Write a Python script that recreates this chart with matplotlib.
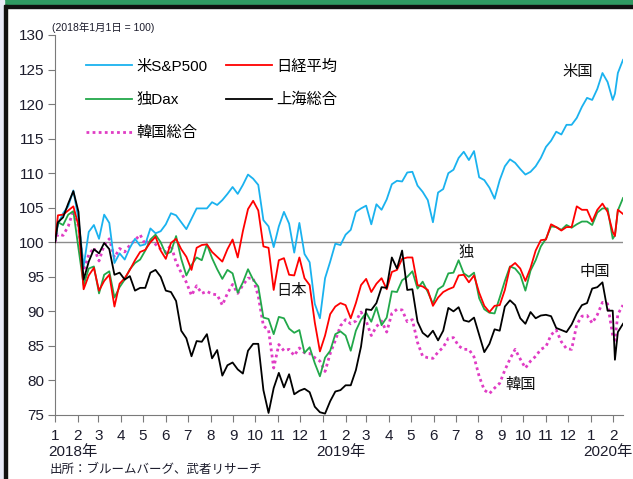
import numpy as np
import pandas as pd
import matplotlib
matplotlib.use("Agg")
import matplotlib.pyplot as plt
import matplotlib.dates as mdates
from matplotlib.patches import Rectangle

plt.rcParams['font.family'] = ['Liberation Sans', 'Noto Sans CJK JP']

# Dates: start point, weekly Fridays, plus the 3 Feb 2020 Shanghai reopening
dates = ([pd.Timestamp('2018-01-01')]
         + list(pd.date_range('2018-01-05', '2020-01-31', freq='W-FRI'))
         + [pd.Timestamp('2020-02-03'), pd.Timestamp('2020-02-07'), pd.Timestamp('2020-02-14')])

# index values, 2018/1/1 = 100
sp500 = [100,
    102.6, 104.2, 105.2, 107.5, 103.3, 96.5, 101.5, 102.5, 100.5, 104.0,
    102.8, 97.0, 98.4, 97.5, 99.2, 100.5, 99.5, 99.7, 102.0, 101.3,
    101.6, 102.6, 104.2, 103.9, 102.9, 101.9, 103.4, 104.9, 104.9, 104.9,
    105.8, 105.4, 106.1, 107.0, 108.0, 107.0, 108.3, 109.8, 109.2, 108.3,
    103.2, 102.3, 99.3, 102.3, 104.4, 102.7, 98.5, 102.8, 98.3, 97.1,
    91.1, 89.0, 94.8, 97.2, 99.8, 99.6, 101.1, 101.8, 104.4, 104.9,
    105.3, 102.6, 105.5, 104.7, 106.2, 108.4, 108.9, 108.8, 110.1, 110.2,
    108.2, 107.3, 106.1, 102.9, 107.2, 107.7, 110.0, 110.5, 112.2, 113.1,
    111.9, 113.2, 109.4, 109.0, 107.9, 106.3, 109.0, 111.0, 112.0, 111.5,
    110.6, 109.8, 110.2, 111.0, 112.2, 113.8, 114.7, 116.0, 115.6, 117.0,
    117.0, 118.0, 119.6, 120.9, 120.6, 122.2, 124.5, 123.2, 120.6,
    121.5, 124.5, 126.4]

nikkei = [100,
    103.9, 104.0, 104.6, 105.2, 102.4, 93.2, 95.2, 96.3, 93.0, 94.4,
    95.3, 90.7, 94.0, 94.8, 96.0, 97.4, 98.6, 98.9, 100.0, 100.8,
    98.8, 97.6, 99.9, 100.5, 99.0, 97.9, 96.0, 99.2, 99.6, 99.7,
    98.6, 97.9, 97.2, 99.0, 100.4, 97.8, 101.6, 104.8, 106.0, 104.6,
    99.4, 99.2, 93.1, 97.4, 97.7, 95.3, 95.2, 97.8, 94.8, 93.8,
    88.4, 84.2, 86.5, 89.6, 90.7, 91.2, 90.9, 89.0, 91.2, 93.8,
    94.7, 92.8, 94.0, 94.8, 93.2, 95.7, 96.0, 97.6, 97.8, 97.8,
    93.8, 93.6, 93.1, 90.8, 92.0, 92.8, 93.2, 93.5, 95.2, 95.3,
    94.2, 95.2, 92.7, 90.8, 89.9, 90.8, 90.9, 93.1, 96.4, 97.0,
    96.2, 94.4, 96.3, 98.8, 100.3, 100.4, 102.6, 102.2, 101.7, 102.2,
    102.2, 105.2, 104.7, 104.7, 103.0, 104.7, 105.6, 104.4, 101.5,
    100.9, 104.7, 104.1]

dax = [100,
    102.9, 102.5, 104.0, 104.5, 99.1, 93.8, 96.2, 96.5, 92.6, 95.3,
    95.8, 92.0, 93.5, 94.6, 96.1, 97.0, 97.5, 98.8, 100.4, 101.1,
    100.0, 98.3, 98.6, 100.9, 97.6, 95.2, 96.7, 97.8, 97.4, 99.7,
    97.7, 96.1, 94.7, 96.0, 95.5, 92.7, 94.2, 96.1, 94.6, 93.6,
    89.1, 88.9, 86.7, 89.2, 89.0, 87.5, 86.9, 87.3, 84.0, 84.8,
    82.5, 80.6, 83.3, 84.3, 86.7, 87.1, 86.5, 84.3, 87.2, 88.8,
    89.8, 88.5, 90.6, 88.0, 89.1, 92.9, 92.8, 94.5, 95.0, 95.8,
    93.3, 94.3, 92.8, 91.1, 93.2, 93.7, 95.5, 95.6, 97.4, 95.5,
    95.0, 95.6, 91.9, 90.3, 89.8, 89.7, 92.0, 94.4, 96.5, 96.2,
    95.3, 93.0, 95.9, 97.4, 99.4, 100.5, 102.3, 102.2, 101.8, 102.5,
    102.1, 102.6, 103.0, 103.0, 102.5, 104.3, 104.9, 104.9, 100.5,
    101.0, 104.6, 106.4]

shanghai = [100,
    102.9, 103.6, 105.6, 107.4, 104.4, 94.6, 97.2, 99.0, 98.4, 99.9,
    99.0, 95.3, 95.6, 94.6, 95.1, 93.0, 93.4, 93.4, 95.6, 96.0,
    95.0, 93.0, 92.8, 91.5, 87.2, 86.1, 83.5, 85.7, 85.6, 86.7,
    83.2, 84.4, 80.7, 82.2, 82.6, 81.6, 81.0, 84.3, 85.3, 85.3,
    78.6, 75.3, 78.9, 81.1, 79.0, 80.9, 78.0, 78.5, 78.8, 78.3,
    76.2, 75.4, 75.2, 77.0, 78.4, 78.6, 79.3, 79.3, 81.5, 84.9,
    90.3, 90.2, 91.2, 93.5, 93.4, 97.8, 96.2, 98.8, 93.1, 93.2,
    88.5, 86.9, 86.3, 87.2, 85.8, 87.2, 90.5, 90.0, 90.6, 88.7,
    88.5, 89.1, 86.6, 84.1, 85.3, 87.4, 87.2, 90.7, 91.6, 90.9,
    89.0, 88.2, 89.9, 89.0, 89.4, 89.5, 89.3, 87.6, 87.3, 87.0,
    88.1, 89.7, 90.9, 91.2, 93.3, 93.5, 94.2, 90.1, 90.1,
    83.0, 87.0, 88.2]

kospi = [100,
    101.2, 101.0, 102.3, 104.6, 102.3, 95.9, 98.2, 99.2, 97.3, 99.6,
    100.5, 97.8, 99.1, 98.6, 99.6, 100.3, 101.1, 99.7, 100.5, 99.7,
    99.0, 98.6, 99.6, 97.1, 95.6, 94.2, 92.3, 93.7, 92.6, 92.9,
    92.5, 92.4, 90.9, 92.6, 93.9, 92.6, 93.8, 94.8, 94.8, 92.2,
    87.9, 87.3, 81.8, 85.2, 84.3, 84.5, 83.6, 84.7, 84.0, 83.9,
    83.3, 82.8, 81.3, 83.9, 85.8, 87.9, 88.8, 88.2, 88.6, 89.9,
    88.6, 86.5, 87.8, 88.6, 87.0, 89.7, 90.3, 90.2, 88.5, 88.8,
    85.5, 83.5, 83.3, 83.2, 84.1, 84.8, 86.1, 86.2, 85.0, 84.5,
    84.5, 83.4, 80.6, 78.6, 78.1, 78.9, 79.6, 81.5, 83.1, 84.5,
    83.1, 81.8, 82.8, 83.5, 84.5, 84.9, 86.6, 87.3, 85.6, 84.6,
    84.5, 88.1, 89.3, 89.4, 88.3, 89.5, 91.3, 91.1, 86.5,
    85.8, 89.6, 90.9]

series = [
    ('米S&P500', sp500, '#1ab2ef', '-'),
    ('独Dax', dax, '#22a84a', '-'),
    ('韓国総合', kospi, '#e03cc4', ':'),
    ('日経平均', nikkei, '#ff0000', '-'),
    ('上海総合', shanghai, '#000000', '-'),
]

# country labels on the plot: (text, date, value)
country_labels = [
    ('米国', '2019-12-14', 124.6),
    ('日本', '2018-11-19', 92.9),
    ('独', '2019-07-15', 98.4),
    ('中国', '2020-01-07', 95.7),
    ('韓国', '2019-09-27', 79.3),
]

fig = plt.figure(figsize=(6.33, 4.79), dpi=100)
ax = fig.add_axes([55 / 633, 1 - 415 / 479, 568 / 633, 380 / 479])

# frame bits of the original screenshot
fig.patches.append(Rectangle((0, 1 - 5 / 479), 1, 5 / 479, transform=fig.transFigure,
                             color='#2f9a62', zorder=0))
fig.patches.append(Rectangle((0, 1 - 7.5 / 479), 1, 2.5 / 479, transform=fig.transFigure,
                             color='#111111', zorder=0))
fig.patches.append(Rectangle((0, 0), 4 / 633, 1, transform=fig.transFigure,
                             color='#e9ebf8', zorder=0))
fig.patches.append(Rectangle((4 / 633, 0), 2.5 / 633, 1 - 5 / 479, transform=fig.transFigure,
                             color='#111111', zorder=0))

ax.axhline(100, color='#8c8c8c', lw=1.0, zorder=1)

x = pd.to_datetime(dates)
for name, vals, col, ls in series:
    if ls == ':':
        ax.plot(x, vals, color=col, lw=2.0, ls=(0, (1, 1.2)), label=name, zorder=2)
    else:
        ax.plot(x, vals, color=col, lw=1.3, ls=ls, label=name, zorder=3)

ax.set_xlim(pd.Timestamp('2018-01-01'), pd.Timestamp('2020-02-14'))
ax.set_ylim(75, 130)
ax.set_yticks(np.arange(75, 131, 5))

ax.xaxis.set_major_locator(mdates.MonthLocator())
ax.xaxis.set_major_formatter(plt.FuncFormatter(lambda v, p: str(mdates.num2date(v).month)))

for s in ['top', 'right']:
    ax.spines[s].set_visible(False)
for s in ['left', 'bottom']:
    ax.spines[s].set_color('#7a7a7a')
ax.tick_params(axis='both', direction='out', length=5, color='#7a7a7a',
               labelsize=11, labelcolor='#1c1c2c')
ax.tick_params(axis='x', pad=5)
ax.tick_params(axis='y', pad=3)

for yr in ['2018', '2019', '2020']:
    ax.annotate(yr + '年', xy=(pd.Timestamp(yr + '-01-01'), 0),
                xycoords=('data', 'axes fraction'), xytext=(-7, -37),
                textcoords='offset pixels', ha='left', va='center',
                fontsize=11, color='#1c1c2c', annotation_clip=False)

for txt, d, v in country_labels:
    ax.text(pd.Timestamp(d), v, txt, ha='center', va='center', fontsize=11,
            color='#111111', zorder=5)

leg = ax.legend(loc='upper left', bbox_to_anchor=(0.055, 0.935), ncol=2, frameon=False,
                fontsize=11, handlelength=3.0, handletextpad=0.3, columnspacing=1.2,
                labelspacing=1.25, borderpad=0, borderaxespad=0)

fig.text(52 / 633, 1 - 27 / 479, '(2018年1月1日 = 100)', fontsize=7.5, va='center',
         ha='left', color='#1c1c2c')
fig.text(50 / 633, 1 - 470 / 479, '出所：ブルームバーグ、武者リサーチ', fontsize=9,
         va='center', ha='left', color='#1c1c2c')

fig.savefig('out.png', dpi=100)
